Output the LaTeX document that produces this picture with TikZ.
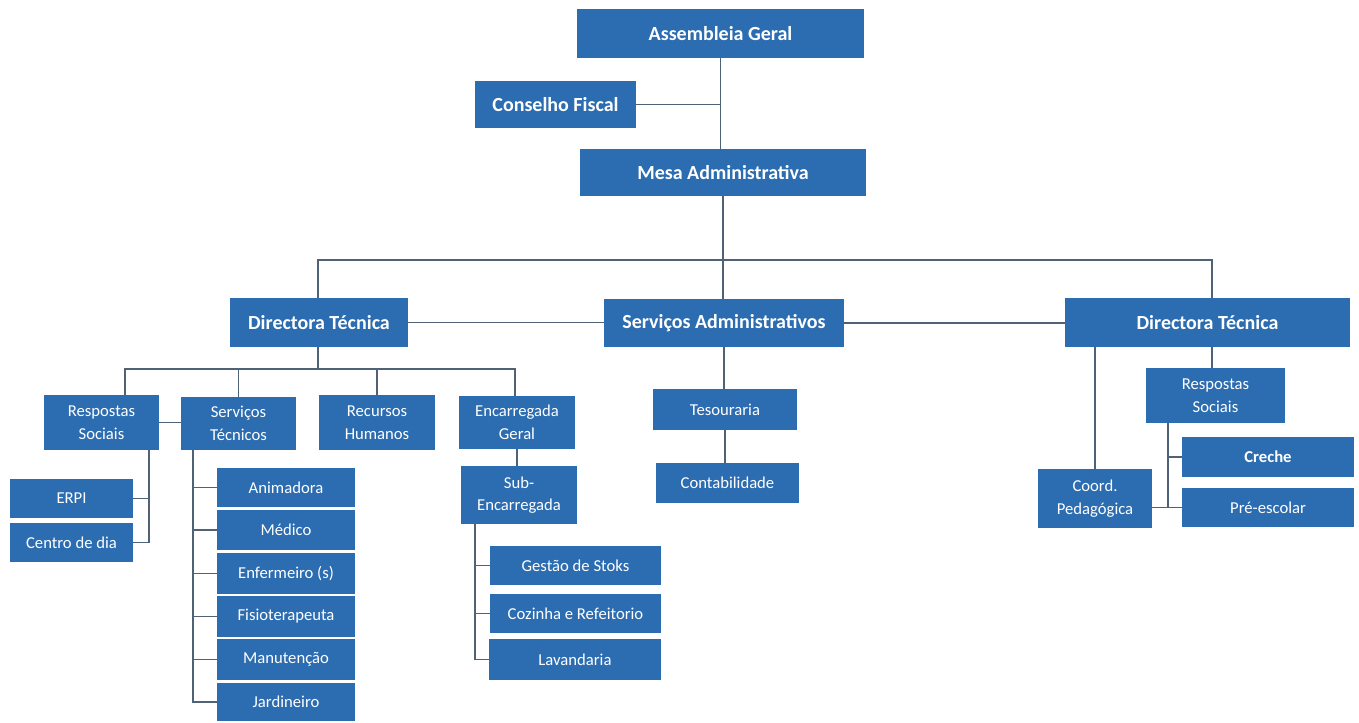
\documentclass[tikz,border=0pt]{standalone}
\usepackage{fontspec}
\setmainfont{Carlito}
\definecolor{boxblue}{RGB}{44,108,176}
\definecolor{linecol}{RGB}{80,98,118}
\tikzset{
  box/.style={draw=none, fill=boxblue, text=white, inner sep=0pt, align=center},
  bigbox/.style={box, font=\fontsize{15}{17}\selectfont\bfseries},
  smallbox/.style={box, font=\fontsize{12.5}{17}\selectfont},
  conn/.style={draw=linecol, line width=1.1pt}
}
% \obox{style}{name}{x1}{y1}{x2}{y2}{text}
\newcommand\obox[7]{\node[#1, minimum width={(#5-#3)*0.75pt}, minimum height={(#6-#4)*0.75pt}] (#2) at ({(#3+#5)/2},{(#4+#6)/2}) {#7};}
\begin{document}
\begin{tikzpicture}[x=0.75pt,y=-0.75pt]
\useasboundingbox (0,0) rectangle (1359,722);
% top level
\obox{bigbox}{ag}{577}{9}{864}{58}{Assembleia Geral}
\obox{bigbox}{cf}{475}{81}{636}{128}{Conselho Fiscal}
\obox{bigbox}{ma}{580}{149}{866}{196}{Mesa Administrativa}
\obox{bigbox}{dtl}{230}{298}{408}{347}{Directora Técnica}
\obox{bigbox}{sa}{604}{299}{844}{347}{Serviços Administrativos}
\obox{bigbox}{dtr}{1065}{298}{1350}{347}{Directora Técnica}
% left subtree
\obox{smallbox}{rs}{44}{395}{159}{450}{Respostas\\Sociais}
\obox{smallbox}{st}{181}{397}{296}{450}{Serviços\\Técnicos}
\obox{smallbox}{rh}{319}{395}{435}{450}{Recursos\\Humanos}
\obox{smallbox}{eg}{459}{396}{575}{449}{Encarregada\\Geral}
\obox{smallbox}{se}{461}{466}{577}{524}{Sub-\\Encarregada}
\obox{smallbox}{erpi}{10}{479}{133}{518}{ERPI}
\obox{smallbox}{cd}{10}{523}{133}{562}{Centro de dia}
\obox{smallbox}{an}{217}{468}{355}{507}{Animadora}
\obox{smallbox}{me}{217}{510}{355}{550}{Médico}
\obox{smallbox}{en}{217}{553}{355}{594}{Enfermeiro (s)}
\obox{smallbox}{fi}{217}{596}{355}{637}{Fisioterapeuta}
\obox{smallbox}{mn}{217}{639}{355}{680}{Manutenção}
\obox{smallbox}{ja}{217}{683}{355}{721}{Jardineiro}
\obox{smallbox}{gs}{490}{546}{661}{585}{Gestão de Stoks}
\obox{smallbox}{cz}{490}{594}{661}{633}{Cozinha e Refeitorio}
\obox{smallbox}{la}{489}{639}{661}{680}{Lavandaria}
% middle subtree
\obox{smallbox}{te}{653}{389}{797}{430}{Tesouraria}
\obox{smallbox}{co}{656}{463}{799}{503}{Contabilidade}
% right subtree
\obox{smallbox}{rsr}{1146}{368}{1285}{423}{Respostas\\Sociais}
\obox{smallbox,font=\fontsize{12.5}{17}\selectfont\bfseries}{cr}{1182}{437}{1354}{477}{Creche}
\obox{smallbox}{pe}{1182}{488}{1354}{527}{Pré-escolar}
\obox{smallbox}{cp}{1038}{469}{1152}{528}{Coord.\\Pedagógica}
% helper coordinates
\coordinate (lb) at (318,369);
\coordinate (rsd) at (125,395);
\coordinate (egd) at (515,396);
\coordinate (rsb) at (149,450);
\coordinate (stb) at (193,450);
\coordinate (seb) at (475,524);
\coordinate (dtrx) at (1212,347);
\coordinate (dtrt) at (1212,298);
\coordinate (rsrb) at (1168,423);
\coordinate (topbus) at (318,260);
% connectors top
\draw[conn] (ag.south) -- (ag.south |- ma.north);
\draw[conn] (cf.east) -- (cf.east -| ag.south);
\draw[conn] (ma.south) -- (ma.south |- sa.north);
\draw[conn] (dtl.north -| topbus) -- (topbus) -| (dtrt);
\draw[conn] (dtl.east) -- (dtl.east -| sa.west);
\draw[conn] (sa.east) -- (sa.east -| dtr.west);
% left subtree connectors
\draw[conn] (dtl.south -| lb) -- (lb);
\draw[conn] (rsd) |- (lb) -| (egd);
\draw[conn] (st.north) -- (st.north |- lb);
\draw[conn] (rh.north) -- (rh.north |- lb);
\draw[conn] (rs.east) -- (rs.east -| st.west);
\draw[conn] (rsb) |- (cd.east);
\draw[conn] (erpi.east) -- (erpi.east -| rsb);
\draw[conn] (stb) |- (ja.west);
\foreach \n in {an,me,en,fi,mn} \draw[conn] (\n.west) -- (\n.west -| stb);
\draw[conn] (eg.south) -- (eg.south |- se.north);
\draw[conn] (seb) |- (la.west);
\foreach \n in {gs,cz} \draw[conn] (\n.west) -- (\n.west -| seb);
% middle
\draw[conn] (sa.south) -- (sa.south |- te.north);
\draw[conn] (te.south) -- (te.south |- co.north);
% right subtree
\draw[conn] (dtrx) -- (dtrx |- rsr.north);
\draw[conn] (cp.north) -- (cp.north |- dtr.south);
\draw[conn] (rsrb) |- (pe.west);
\draw[conn] (cr.west) -- (cr.west -| rsrb);
\draw[conn] (cp.east |- pe.west) -- (pe.west);
\end{tikzpicture}
\end{document}
